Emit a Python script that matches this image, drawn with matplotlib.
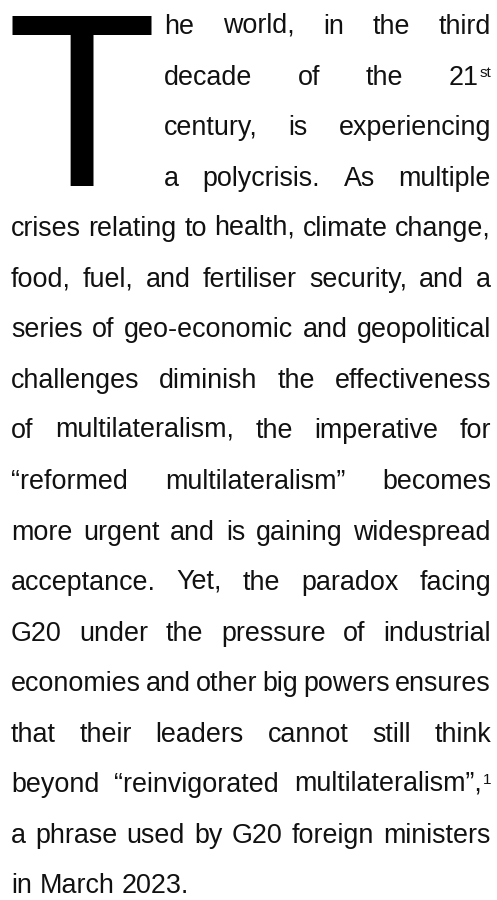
import numpy as np
import matplotlib
matplotlib.use("Agg")
import matplotlib.pyplot as plt
from matplotlib.figure import Figure
from matplotlib.backends.backend_agg import FigureCanvasAgg

# Paragraph text, one entry per printed line ("^" marks a superscript)
drop_cap = "T"
indented_lines = [
    "he world, in the third",
    "decade of the 21^st",
    "century, is experiencing",
    "a polycrisis. As multiple",
]
body_lines = [
    "crises relating to health, climate change,",
    "food, fuel, and fertiliser security, and a",
    "series of geo-economic and geopolitical",
    "challenges diminish the effectiveness",
    "of multilateralism, the imperative for",
    "\u201creformed multilateralism\u201d becomes",
    "more urgent and is gaining widespread",
    "acceptance. Yet, the paradox facing",
    "G20 under the pressure of industrial",
    "economies and other big powers ensures",
    "that their leaders cannot still think",
    "beyond \u201creinvigorated multilateralism\u201d,^1",
    "a phrase used by G20 foreign ministers",
    "in March 2023.",
]

# layout (pixels)
W, H = 497, 900
LEFT, RIGHT, INDENT = 11, 491, 164
FIRST_BASE, LEAD = 34, 50.55
FS, SUP_FS, SUP_RISE = 19.4, 11, 8
FONT = "Liberation Sans"
TXT = "#111111"
DPI = 100

fig = plt.figure(figsize=(W / DPI, H / DPI), dpi=DPI)
ax = fig.add_axes([0, 0, 1, 1])
ax.set_xlim(0, W)
ax.set_ylim(H, 0)
ax.axis("off")
renderer = fig.canvas.get_renderer()


def width_of(s, size=FS):
    t = ax.text(0, 0, s, fontsize=size, family=FONT)
    w = t.get_window_extent(renderer).width
    t.remove()
    return w


def render_rows(s):
    f = Figure(figsize=(4, 0.6), dpi=DPI)
    c = FigureCanvasAgg(f)
    f.text(0.0125, 0.5, s, fontsize=FS, family=FONT, color="black",
           va="baseline")
    c.draw()
    return 255.0 - np.asarray(c.buffer_rgba())[:, :, 0].astype(float)


def baseline_drift(s):
    # Agg can set a word ending in a comma a pixel off the line;
    # compare it with the same word without the comma to find by how much
    if not s.endswith(","):
        return 0
    full, stem = render_rows(s), render_rows(s[:-1])
    cols = np.where(stem.sum(axis=0) > 0)[0]
    cols = cols[: max(1, int(len(cols) * 0.6))]
    pf = full[:, cols].sum(axis=1)
    ps = stem[:, cols].sum(axis=1)
    return min(range(-3, 4), key=lambda k: np.abs(pf - np.roll(ps, k)).sum())


def word_width(word):
    main, _, sup = word.partition("^")
    w = width_of(main)
    if sup:
        w += width_of(sup, SUP_FS) + 1
    return w


def put(x, y, s, size=FS):
    ax.text(x, y, s, fontsize=size, family=FONT, color=TXT,
            ha="left", va="baseline")


def draw_word(x, y, word):
    main, _, sup = word.partition("^")
    put(x, y - baseline_drift(main), main)
    if sup:
        put(x + width_of(main) + 1.5, y - SUP_RISE, sup, SUP_FS)


def draw_line(x0, x1, y, line, justify=True):
    words = line.split(" ")
    widths = [word_width(w) for w in words]
    if justify and len(words) > 1:
        gap = (x1 - x0 - sum(widths)) / (len(words) - 1)
    else:
        gap = width_of("a a") - 2 * width_of("a")
    x = x0
    for w, ww in zip(words, widths):
        draw_word(x, y, w)
        x += ww + gap


# baselines snapped to whole pixels so every word sits on the same row
baselines = [round(FIRST_BASE + k * LEAD)
             for k in range(len(indented_lines) + len(body_lines))]

# drop cap spanning the first four lines
ax.text(LEFT - 5, baselines[3], drop_cap, fontsize=177, family=FONT,
        color="black", ha="left", va="baseline")

for i, line in enumerate(indented_lines):
    draw_line(INDENT, RIGHT, baselines[i], line)

for j, line in enumerate(body_lines):
    y = baselines[len(indented_lines) + j]
    draw_line(LEFT, RIGHT, y, line, justify=(j < len(body_lines) - 1))

fig.savefig("out.png", dpi=DPI, facecolor="white")
